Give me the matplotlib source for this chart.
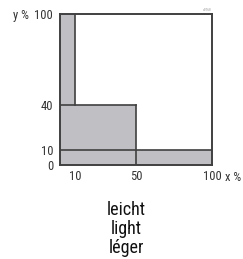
import matplotlib
matplotlib.use("Agg")
import matplotlib.pyplot as plt
from matplotlib import font_manager

# Data
bar_left = [0, 10, 50]
bar_width = [10, 40, 50]
bar_height = [100, 40, 10]
xtick_vals = [10, 50, 100]
xtick_labels = ["10", "50", "100"]
ytick_vals = [0, 10, 40, 100]
ytick_labels = ["0", "10", "40", "100"]
caption = ["leicht", "light", "léger"]

names = {f.name for f in font_manager.fontManager.ttflist}
fam = "DejaVu Sans"
for cand in ["Roboto Condensed", "Archivo Narrow", "PT Sans Narrow", "Liberation Sans Narrow",
             "Pragati Narrow", "Barlow Semi Condensed", "Open Sans Condensed"]:
    if cand in names:
        fam = cand
        break
plt.rcParams["font.family"] = [fam, "DejaVu Sans"]

W, H = 243, 259
fig = plt.figure(figsize=(W / 100, H / 100), dpi=100)
L, R, T, B = 60, 212, 14, 165
ax = fig.add_axes([L / W, 1 - B / H, (R - L) / W, (B - T) / H])
ax.set_xlim(0, 100)
ax.set_ylim(0, 100)

ax.bar(bar_left, bar_height, width=bar_width, align="edge", color="#c0c0c4", edgecolor="none", zorder=1)

lc = "#404040"
lw = 1.2
# internal step lines derived from the data
ax.plot([0, 100], [bar_height[2], bar_height[2]], color=lc, lw=lw, zorder=2)
ax.plot([0, bar_left[2]], [bar_height[1], bar_height[1]], color=lc, lw=lw, zorder=2)
ax.plot([bar_left[1], bar_left[1]], [bar_height[1], 100], color=lc, lw=lw, zorder=2)
ax.plot([bar_left[2], bar_left[2]], [0, bar_height[1]], color=lc, lw=lw, zorder=2)

for s in ax.spines.values():
    s.set_color(lc)
    s.set_linewidth(1.4)

tc = "#333333"
fs = 9
ax.set_xticks(xtick_vals)
ax.set_xticklabels(xtick_labels, fontsize=fs, color=tc)
ax.set_yticks(ytick_vals)
ax.set_yticklabels(ytick_labels, fontsize=fs, color=tc)
ax.tick_params(axis="both", which="major", length=0)
ax.tick_params(axis="x", pad=3.5)
ax.tick_params(axis="y", pad=5)
ax.set_yticks([10, 40], minor=True)
ax.tick_params(axis="y", which="minor", length=3, width=1.2, color=lc, direction="out")

ax.text(-20.5, 100, "y %", fontsize=fs, ha="right", va="center_baseline", color=tc)
ax.text(108.5, -7, "x %", fontsize=fs, ha="left", va="center_baseline", color=tc)
ax.text(100, 101.2, "d0768", fontsize=2.5, ha="right", va="bottom", color="#999999")

for i, t in enumerate(caption):
    fig.text(126 / W, 1 - (210 + 19 * i) / H, t, fontsize=13, ha="center", va="center", color="#111111")

fig.savefig("out.png", dpi=100)
